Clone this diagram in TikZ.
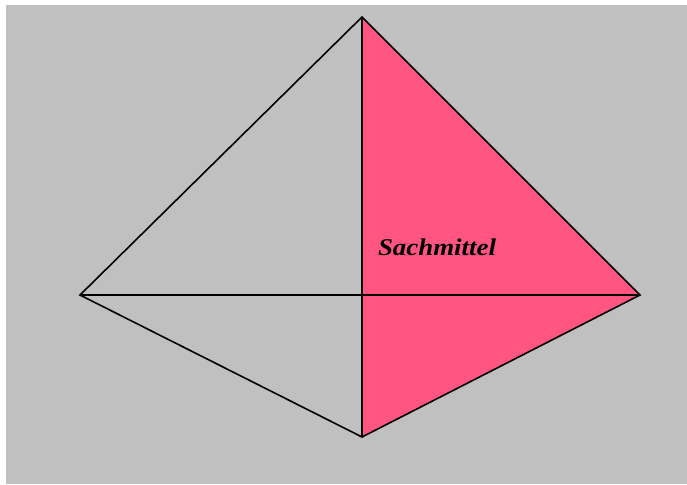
\documentclass[tikz,border=0pt]{standalone}
\usepackage{fontspec}
\setmainfont{Liberation Serif}
\definecolor{bggray}{HTML}{C0C0C0}
\definecolor{pinkfill}{HTML}{FF5580}
\tikzset{edge/.style={draw=black,line width=1.6pt}}
\begin{document}
\begin{tikzpicture}[x=1pt,y=-1pt]
\useasboundingbox (0,0) rectangle (687,484);
\fill[white] (0,0) rectangle (687,484);
\fill[bggray] (6,5) rectangle (687,484);
\coordinate (T) at (362,17);
\coordinate (L) at (80,295);
\coordinate (R) at (640,295);
\coordinate (B) at (362,437);
\coordinate (C) at (362,295);
\fill[pinkfill] (T) -- (R) -- (B) -- cycle;
\draw[edge,line join=miter] (T) -- (R) -- (B) -- (L) -- cycle;
\draw[edge] (L) -- (R);
\draw[edge] (T) -- (B);
\node[font=\fontsize{24}{28}\selectfont\bfseries\itshape, anchor=center, xscale=1.12, inner sep=0pt] (lab) at (437,247) {Sachmittel};
\end{tikzpicture}
\end{document}
